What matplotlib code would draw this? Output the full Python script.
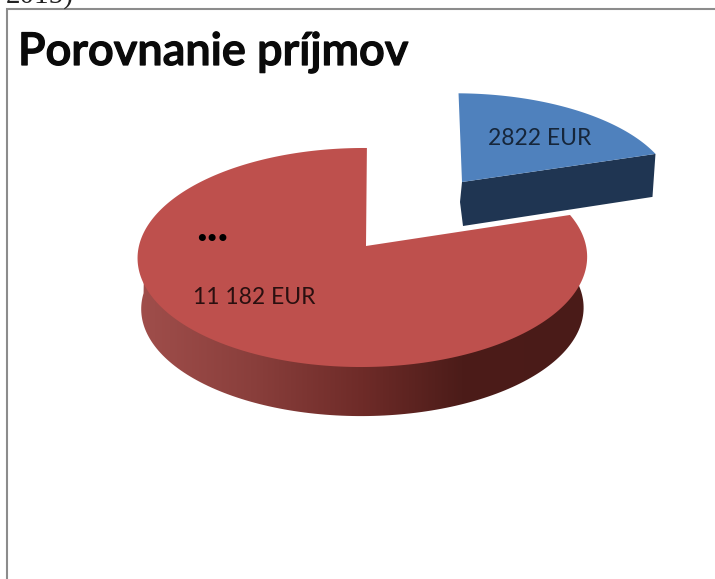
import numpy as np
import matplotlib
matplotlib.use("Agg")
import matplotlib.pyplot as plt
import matplotlib.patheffects as pe
from matplotlib.colors import LinearSegmentedColormap
from matplotlib.patches import Polygon

title = "Porovnanie príjmov"
values = [2822, 11182]
value_labels = ["2822 EUR", "11 182 EUR"]
top_colors = ["#4f81bd", "#be504d"]
blue_side = "#1f3552"
red_side_stops = ["#a04e4b", "#8a3f3c", "#6e2b28", "#4c1c19", "#4a1b18"]
red_side_pos = [0.0, 0.25, 0.5, 0.72, 1.0]


def project(theta_deg, apex, scale=(1.0, 1.0), shear=0.0, drop=0.0, shrink=1.0):
    """Perspective view of a point on the unit circle, into image pixels."""
    t = np.radians(theta_deg)
    u, v = np.cos(t), np.sin(t)
    w = 1 + 0.105 * v + 0.0157 * u
    x = apex[0] + shrink * scale[0] * (223.5 * u + shear * v) / w
    y = apex[1] + drop - shrink * scale[1] * 108.3 * v / w
    return np.column_stack([x, y])


fig = plt.figure(figsize=(7.15, 5.79), dpi=100, facecolor="white")
ax = fig.add_axes([0, 0, 1, 1])
ax.set_xlim(0, 715)
ax.set_ylim(579, 0)
ax.axis("off")

# slice angles come from the values, clockwise from 12 o'clock
sweep = 360 * values[0] / sum(values)
end_angle = 90 - sweep

# ── Frame and the cut-off text above it ───────────────────────────────────
ax.plot([7, 7, 715], [579, 9, 9], color="#8c8c8c", lw=1.5, solid_joinstyle="miter")
ax.text(6, 3, "2015)", family="Liberation Serif", fontsize=21, color="#222222",
        ha="left", va="baseline")

# ── Red slice ─────────────────────────────────────────────────────────────
red_apex = (366, 246)
front = np.linspace(178, 360 + end_angle, 160)
side_top = project(front, red_apex, shear=1, shrink=0.98)  # tucked under the top face
side_bot = project(front, red_apex, shear=1, drop=51, shrink=0.984)
side_poly = Polygon(np.vstack([side_top, side_bot[::-1]]), closed=True,
                    facecolor="none", edgecolor="none")
ax.add_patch(side_poly)
cmap = LinearSegmentedColormap.from_list("side", list(zip(red_side_pos, red_side_stops)))
grad = ax.imshow(np.linspace(0, 1, 256)[None, :], cmap=cmap, aspect="auto",
                 extent=(139, 587, 420, 240), zorder=2)
grad.set_clip_path(side_poly)
ax.set_xlim(0, 715)
ax.set_ylim(579, 0)

rim = np.linspace(90, 360 + end_angle, 240)
red_top = np.vstack([[red_apex], project(rim, red_apex, shear=1)])
ax.add_patch(Polygon(red_top, closed=True, facecolor=top_colors[1],
                     edgecolor="none", zorder=3))

# ── Blue slice, pulled out and further back ───────────────────────────────
blue_apex = np.array((462, 182))
blue_scale = (0.955, 0.905)
arc = np.linspace(end_angle, 90, 80)
blue_rim = project(arc, blue_apex, scale=blue_scale, shear=-4)
tip = blue_rim[0]
ax.add_patch(Polygon([blue_apex, tip, tip + (-3, 43), blue_apex + (1, 44), blue_apex + (-2, 20)],
                     closed=True, facecolor=blue_side, edgecolor="none", zorder=3))
ax.add_patch(Polygon(np.vstack([[blue_apex], blue_rim]), closed=True,
                     facecolor=top_colors[0], edgecolor="none", zorder=4))

# ── Text ──────────────────────────────────────────────────────────────────
title_text = ax.text(18, 65, title, family="Lato", fontweight="semibold", fontsize=32.5,
                     color="#0a0a0a", ha="left", va="baseline", zorder=5)
title_text.set_path_effects([pe.withStroke(linewidth=0.9, foreground="#0a0a0a")])
ax.text(539.5, 145, value_labels[0], family="Lato", fontsize=16.5, color="#16263a",
        ha="center", va="baseline", zorder=5)
ax.text(254, 304, value_labels[1], family="Lato", fontsize=16.5, color="#2a1010",
        ha="center", va="baseline", zorder=5)
ax.text(212, 241, "...", family="Liberation Serif", fontweight="bold", fontsize=31,
        color="black", ha="center", va="baseline", zorder=5)

fig.savefig("out.png", dpi=100)
